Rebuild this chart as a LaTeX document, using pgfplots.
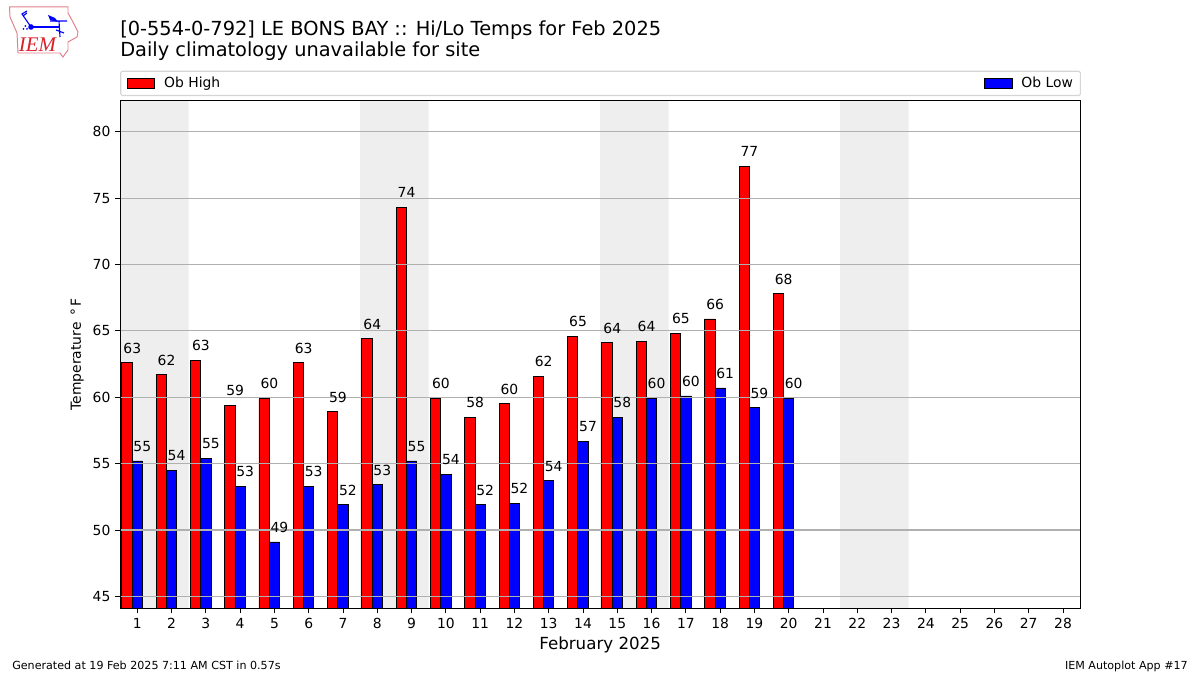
\documentclass[border=0pt]{standalone}
\usepackage{pgfplots}
\pgfplotsset{compat=1.18}
\usepackage{pgfplotstable}
\usepackage{fontspec}
\setmainfont{DejaVu Sans}
\newfontfamily\logofont[ItalicFont={Liberation Serif Italic}]{Liberation Serif}
\definecolor{band}{HTML}{EEEEEE}
\definecolor{gridc}{HTML}{B0B0B0}
\definecolor{legc}{HTML}{D5D5D5}
\definecolor{logor}{HTML}{E0808A}
\definecolor{logot}{HTML}{D8202A}
\pgfplotstableread{
d hi hl lo ll
1 62.6 63 55.2 55
2 61.7 62 54.5 54
3 62.8 63 55.4 55
4 59.4 59 53.3 53
5 59.9 60 49.1 49
6 62.6 63 53.3 53
7 58.9 59 51.9 52
8 64.4 64 53.4 53
9 74.3 74 55.2 55
10 59.9 60 54.2 54
11 58.5 58 51.9 52
12 59.5 60 52.0 52
13 61.6 62 53.7 54
14 64.6 65 56.7 57
15 64.1 64 58.5 58
16 64.2 64 59.9 60
17 64.8 65 60.1 60
18 65.9 66 60.7 61
19 77.4 77 59.2 59
20 67.8 68 59.9 60
}\temps
\begin{document}
\begin{tikzpicture}
\useasboundingbox (0pt,0pt) rectangle (864pt,486pt);
\begin{axis}[
  at={(86.5pt,48pt)},anchor=south west,
  scale only axis,width=691.2pt,height=365.76pt,
  xmin=0.5,xmax=28.5,ymin=44.1,ymax=82.37,
  xtick={1,...,28},ytick={45,50,...,80},
  ymajorgrids,
  grid style={gridc,line width=0.8pt},
  axis line style={line width=0.7pt},
  tick style={black,line width=0.7pt},
  major tick length=3.5pt,
  tick align=outside,tick pos=left,
  axis on top,
  tick label style={font=\fontsize{10}{12}\selectfont},
  /pgf/number format/assume math mode=true,
  xlabel={February 2025},
  xlabel style={font=\fontsize{12}{14}\selectfont,at={(0.5,0)},anchor=north,yshift=-20.5pt,inner sep=0pt},
  ylabel={Temperature \,°\,F},
  ylabel style={font=\fontsize{10}{12}\selectfont,at={(0,0.5)},anchor=south,yshift=26pt,inner sep=0pt},
  legend columns=2,
  legend cell align=left,
  legend image code/.code={\path (0pt,0pt) (28.7pt,0pt);\draw[#1,sharp corners,line width=0.6pt] (4.3pt,-3.5pt) rectangle (24.3pt,3.5pt);},
  legend style={at={(0,1.0083)},anchor=south west,draw=legc,line width=0.8pt,rounded corners=1.5pt,
    inner xsep=0pt,inner ysep=2.2pt,font=\fontsize{10}{12}\selectfont,
    /tikz/every even column/.append style={column sep=0pt}},
  nodes near coords style={font=\fontsize{10}{12}\selectfont,anchor=center,yshift=10.6pt,black,inner sep=0pt},
]
\addplot[fill=band,draw=none,forget plot] coordinates {(0.5,0)(0.5,100)(2.5,100)(2.5,0)} \closedcycle;
\addplot[fill=band,draw=none,forget plot] coordinates {(7.5,0)(7.5,100)(9.5,100)(9.5,0)} \closedcycle;
\addplot[fill=band,draw=none,forget plot] coordinates {(14.5,0)(14.5,100)(16.5,100)(16.5,0)} \closedcycle;
\addplot[fill=band,draw=none,forget plot] coordinates {(21.5,0)(21.5,100)(23.5,100)(23.5,0)} \closedcycle;
\addplot[ybar,bar width=0.3,bar shift=-0.3,fill=red,draw=black,line width=0.6pt,
  point meta=explicit symbolic,nodes near coords,nodes near coords style={xshift=-3.6pt}]
  table[x=d,y=hi,meta=hl]{\temps};
\addlegendentry{\makebox[583.9pt][l]{Ob High}}
\addplot[ybar,bar width=0.3,bar shift=0,fill=blue,draw=black,line width=0.6pt,
  point meta=explicit symbolic,nodes near coords,nodes near coords style={xshift=3.6pt}]
  table[x=d,y=lo,meta=ll]{\temps};
\addlegendentry{\makebox[40.5pt][l]{Ob Low}}
\end{axis}
\begin{scope}[x=0.72pt,y=0.72pt]
% title and footer
\node[anchor=base west,inner sep=0pt,font=\fontsize{13.95}{16}\selectfont] at (120,675-36) {[0-554-0-792] LE BONS BAY :: Hi/Lo Temps for Feb 2025};
\node[anchor=base west,inner sep=0pt,font=\fontsize{13.95}{16}\selectfont] at (120,675-57) {Daily climatology unavailable for site};
\node[anchor=base west,inner sep=0pt,font=\fontsize{8}{10}\selectfont] at (12,675-670) {Generated at 19 Feb 2025 7:11 AM CST in 0.57s};
\node[anchor=base east,inner sep=0pt,font=\fontsize{8}{10}\selectfont] at (1188,675-670) {IEM Autoplot App \#17};
\end{scope}
% logo
\begin{scope}[shift={(0pt,486pt)},x=0.72pt,y=-0.72pt]
\draw[logor,line width=0.7pt] (9.5,7)--(68,7)--(68,13)--(73,22)--(78,32)--(77,37)--(68,42)--(68,50)--(63,57)--(60,53)--(18,53)--(17,33)--(10,17)--cycle;
\draw[blue,line width=1.2pt] (31,27)--(59,27);
\draw[blue,line width=0.8pt] (31,27)--(22,14)--(27,11) (23,16)--(27,13);
\fill[blue] (31,27) circle (2.8);
\fill[blue] (48,15)--(55,18)--(58,22)--(50,20)--cycle;
\draw[blue,line width=0.8pt] (50,21)--(67,21) (59,21)--(60,37) (56,30)--(64,33);
\fill[blue] (23.5,29) circle (1) (27,29) circle (1) (25.3,26) circle (1);
\node[logot,inner sep=0pt,anchor=center,font=\logofont\itshape\fontsize{15}{15}\selectfont] at (37.5,45) {IEM};
\end{scope}
\end{tikzpicture}
\end{document}
